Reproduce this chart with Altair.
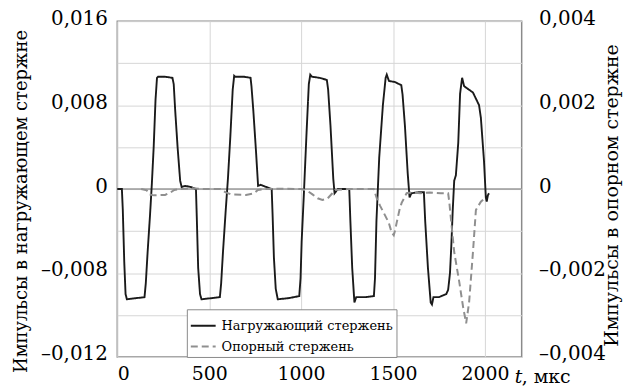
import altair as alt
import pandas as pd

# ---------------- data ----------------
series_names = ["Нагружающий стержень", "Опорный стержень"]

solid_t = [0, 25, 30, 38, 45, 52, 100, 148, 155, 165, 178, 188, 198, 208, 216, 222, 260, 300,
           307, 315, 328, 342, 350, 370, 400, 428, 433, 440, 450, 458, 510, 558, 565, 575, 590,
           602, 615, 628, 636, 642, 690, 725, 730, 740, 755, 766, 780, 810, 840, 845, 852, 862,
           873, 930, 990, 997, 1003, 1015, 1030, 1042, 1050, 1060, 1100, 1140, 1147, 1160, 1175,
           1182, 1200, 1240, 1262, 1268, 1278, 1290, 1300, 1350, 1396, 1402, 1410, 1425, 1445,
           1460, 1466, 1478, 1510, 1545, 1552, 1565, 1580, 1590, 1600, 1640, 1668, 1675, 1690,
           1705, 1712, 1720, 1750, 1790, 1800, 1810, 1817, 1825, 1833, 1842, 1855, 1865, 1876,
           1887, 1935, 1968, 1978, 1995, 2005, 2010, 2016, 2022]
solid_v = [0, 0, -0.002, -0.007, -0.0100, -0.0105, -0.0104, -0.0103, -0.0090, -0.0060, -0.0025,
           0.0005, 0.0040, 0.0085, 0.0106, 0.0107, 0.0107, 0.0106,
           0.0100, 0.0075, 0.0040, 0.0008, 0.0002, 0.0003, 0.0002, 0, -0.0030, -0.0075, -0.0100,
           -0.0105, -0.0104, -0.0103, -0.0090, -0.0060, -0.0020,
           0.0010, 0.0050, 0.0095, 0.0108, 0.0107, 0.0107, 0.0106, 0.0098, 0.0075, 0.0035, 0.0003,
           0.0004, 0.0002, 0.0, -0.0025, -0.0065, -0.0095,
           -0.0105, -0.0104, -0.0102, -0.0085, -0.0050, -0.0005, 0.0055, 0.0100, 0.0109, 0.0107,
           0.0106, 0.0104, 0.0095, 0.0060, 0.0010,
           -0.0004, 0.0, 0.0, 0.0, -0.0030, -0.0075, -0.0108, -0.0103, -0.0103, -0.0102, -0.0085,
           -0.0030, 0.0030, 0.0080,
           0.0106, 0.0109, 0.0103, 0.0102, 0.0099, 0.0090, 0.0060, 0.0015, -0.0008, -0.0004,
           -0.0003, -0.0003, -0.0030, -0.0075,
           -0.0108, -0.0110, -0.0103, -0.0103, -0.0100, -0.0096, -0.0080, -0.0055, -0.0020, 0.0008,
           0.0013, 0.0044, 0.0091, 0.0106,
           0.0098, 0.0092, 0.0080, 0.0068, 0.0027, -0.0008, -0.0012, -0.0006, -0.0004]

dashed_t = [130, 160, 175, 200, 260, 290, 310, 340, 400, 470, 560, 590, 620, 700, 745, 765, 800,
            900, 1000, 1030, 1060, 1090, 1116, 1145, 1170, 1185, 1250, 1330, 1395, 1412, 1430,
            1450, 1477, 1493, 1504, 1512, 1520, 1535, 1547, 1574, 1600, 1650, 1700, 1760, 1800,
            1806, 1833, 1860, 1881, 1898, 1914, 1935, 1951, 1978, 2005]
dashed_v = [0, -0.00003, -0.00013, -0.00015, -0.00014, -0.00008, -0.00002, 0, 0.00002, 0, 0,
            -0.00008, -0.00013, -0.00014, -0.00010, -0.00002, 0,
            0.00001, 0, -0.00003, -0.00012, -0.00022, -0.00026, -0.00022, -0.00010, -0.00002, 0,
            0, 0, -0.00022, -0.0004,
            -0.00057, -0.0008, -0.00104, -0.0011, -0.00097, -0.0008, -0.0005, -0.00033, -0.0001,
            -0.00008, -0.0001, -0.00008, -0.0001, -0.0001,
            -0.0003, -0.0015, -0.0022, -0.0028, -0.0032, -0.0027, -0.0015, -0.0005, -0.0003,
            -0.0002]

x_tick_values = [0, 500, 1000, 1500, 2000]
left_tick_values = [-0.016, -0.012, -0.008, -0.004, 0, 0.004, 0.008, 0.012, 0.016]
left_tick_labels = ["–0,012", "", "–0,008", "", "0", "", "0,008", "", "0,016"]
right_tick_values = [-0.004, -0.002, 0, 0.002, 0.004]
right_tick_labels = ["–0,004", "–0,002", "0", "0,002", "0,004"]

left_title = "Импульсы в нагружающем стержне"
right_title = "Импульсы в опорном стержне"
x_title_t = "t"
x_title_unit = ", мкс"

# ---------------- chart ----------------
FONT = "DejaVu Serif"


def label_expr(values, labels):
    expr = "''"
    for v, l in zip(reversed(values), reversed(labels)):
        expr = f"abs(datum.value - ({v})) < 1e-7 ? '{l}' : ({expr})"
    return expr


solid_df = pd.DataFrame({"t": solid_t, "v": solid_v, "series": series_names[0]})
dashed_df = pd.DataFrame({"t": dashed_t, "v": dashed_v, "series": series_names[1]})

x_enc = alt.X("t:Q", scale=alt.Scale(domain=[0, 2200], nice=False, zero=False),
              axis=alt.Axis(values=x_tick_values, title=None, grid=True, ticks=False,
                            domain=False, labelPadding=8, labelFontSize=19, labelFont=FONT,
                            labelColor="black", format="d"))

left_scale = alt.Scale(domain=[-0.016, 0.016], nice=False, zero=False)
right_scale = alt.Scale(domain=[-0.004, 0.004], nice=False, zero=False)

color_enc = alt.Color("series:N", scale=alt.Scale(domain=series_names, range=["#1a1a1a", "#8f8f8f"]),
                      legend=alt.Legend(title=None))
dash_enc = alt.StrokeDash("series:N", scale=alt.Scale(domain=series_names, range=[[1, 0], [7, 4]]),
                          legend=alt.Legend(title=None))

zero_rule = alt.Chart(pd.DataFrame({"y": [0]})).mark_rule(color="#9a9a9a", strokeWidth=1.6).encode(
    y=alt.Y("y:Q", scale=left_scale, axis=None))

solid = alt.Chart(solid_df).mark_line(strokeWidth=1.9).encode(
    x=x_enc,
    y=alt.Y("v:Q", scale=left_scale,
            axis=alt.Axis(values=left_tick_values, labelExpr=label_expr(left_tick_values, left_tick_labels),
                          title=left_title, grid=True, ticks=False, domain=False,
                          labelPadding=10, labelFontSize=20, labelFont=FONT, labelColor="black",
                          labelOffset=-3,
                          titleFont=FONT, titleFontSize=18, titleFontWeight="normal",
                          titleColor="black", titleX=-96, titleY=181, titleBaseline="middle",
                          titleAlign="center", titleAngle=270)),
    color=color_enc,
    strokeDash=dash_enc,
    order="t:Q",
)

dashed = alt.Chart(dashed_df).mark_line(strokeWidth=2).encode(
    x=x_enc,
    y=alt.Y("v:Q", scale=right_scale,
            axis=alt.Axis(orient="right", values=right_tick_values,
                          labelExpr=label_expr(right_tick_values, right_tick_labels),
                          title=right_title, grid=False, ticks=False, domain=False,
                          labelPadding=17, labelFontSize=20, labelFont=FONT, labelColor="black",
                          labelOffset=-3,
                          titleFont=FONT, titleFontSize=19, titleFontWeight="normal",
                          titleColor="black", titleX=90, titleY=175, titleBaseline="middle",
                          titleAlign="center", titleAngle=270)),
    color=color_enc,
    strokeDash=dash_enc,
    order="t:Q",
)

t_text = alt.Chart(pd.DataFrame({"s": [x_title_t]})).mark_text(
    font=FONT, fontSize=19, fontStyle="italic", align="left", baseline="alphabetic", color="black"
).encode(text="s:N", x=alt.value(400), y=alt.value(364))
unit_text = alt.Chart(pd.DataFrame({"s": [x_title_unit]})).mark_text(
    font=FONT, fontSize=19, align="left", baseline="alphabetic", color="black"
).encode(text="s:N", x=alt.value(407), y=alt.value(364))

chart = alt.layer(zero_rule, solid, dashed, t_text, unit_text).resolve_scale(
    y="independent"
).properties(
    width=407, height=338,
    autosize=alt.AutoSizeParams(type="none"),
    padding={"left": 110, "top": 12, "right": 104, "bottom": 30},
).configure_view(
    stroke="#8a8a8a", strokeWidth=1.5
).configure_axis(
    gridColor="#d6d6d6", gridWidth=1
).configure_legend(
    orient="none", legendX=70, legendY=290,
    fillColor="white", strokeColor="#8a8a8a", padding=3,
    labelFont=FONT, labelFontSize=13, labelColor="black", labelLimit=300,
    symbolType="M-1,0L1,0", symbolSize=625, symbolStrokeWidth=2, rowPadding=-7,
    labelOffset=5, cornerRadius=0,
)

chart.save("out.html", embed_options={"renderer": "svg", "actions": False})
